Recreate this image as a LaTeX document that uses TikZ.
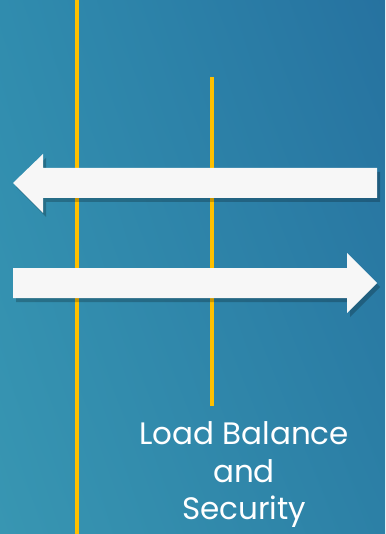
\documentclass[tikz,border=0pt]{standalone}
\usepackage{fontspec}
\setmainfont{Poppins}
\usetikzlibrary{positioning,shadings}
\definecolor{bgteal}{RGB}{56,150,178}
\definecolor{bgtealdark}{RGB}{48,140,174}
\definecolor{bgblue}{RGB}{38,114,160}
\definecolor{bgmid}{RGB}{44,128,166}
\definecolor{gelb}{RGB}{255,192,0}

\begin{document}
\begin{tikzpicture}[x=1pt, y=-1pt,
        rail/.style={line width=4pt, gelb},
        pfeil/.style={fill=white!97!black, draw=none},
        schatten/.style={fill=black, opacity=0.22},
        beschriftung/.style={text=white, align=center, font=\fontsize{31}{37.5}\selectfont}
      ]
        % Hintergrund
        \shade[upper left=bgtealdark, upper right=bgblue, lower left=bgteal, lower right=bgmid]
          (0,0) rectangle (385,534);
        \useasboundingbox (0,0) rectangle (385,534);

        % Schienen
        \coordinate (r1o) at (77,0);
        \coordinate (r1u) at (77,534);
        \coordinate (r2o) at (211.5,77);
        \coordinate (r2u) at (211.5,406);
        \draw[rail] (r1o) -- (r1u);
        \draw[rail] (r2o) -- (r2u);

        % Pfeil nach links
        \begin{scope}[shift={(3,4)}]
          \fill[schatten] (13,183) -- (43,154) -- (43,168) -- (377,168) -- (377,198) -- (43,198) -- (43,213) -- cycle;
        \end{scope}
        \fill[pfeil] (13,183) -- (43,154) -- (43,168) -- (377,168) -- (377,198) -- (43,198) -- (43,213) -- cycle;

        % Pfeil nach rechts
        \begin{scope}[shift={(3,4)}]
          \fill[schatten] (13,268) -- (347,268) -- (347,253) -- (377,283) -- (347,313) -- (347,298) -- (13,298) -- cycle;
        \end{scope}
        \fill[pfeil] (13,268) -- (347,268) -- (347,253) -- (377,283) -- (347,313) -- (347,298) -- (13,298) -- cycle;

        % Text
        \node[beschriftung] (titel) at (244,475) {Load Balance\\and\\Security};
      \end{tikzpicture}
\end{document}
